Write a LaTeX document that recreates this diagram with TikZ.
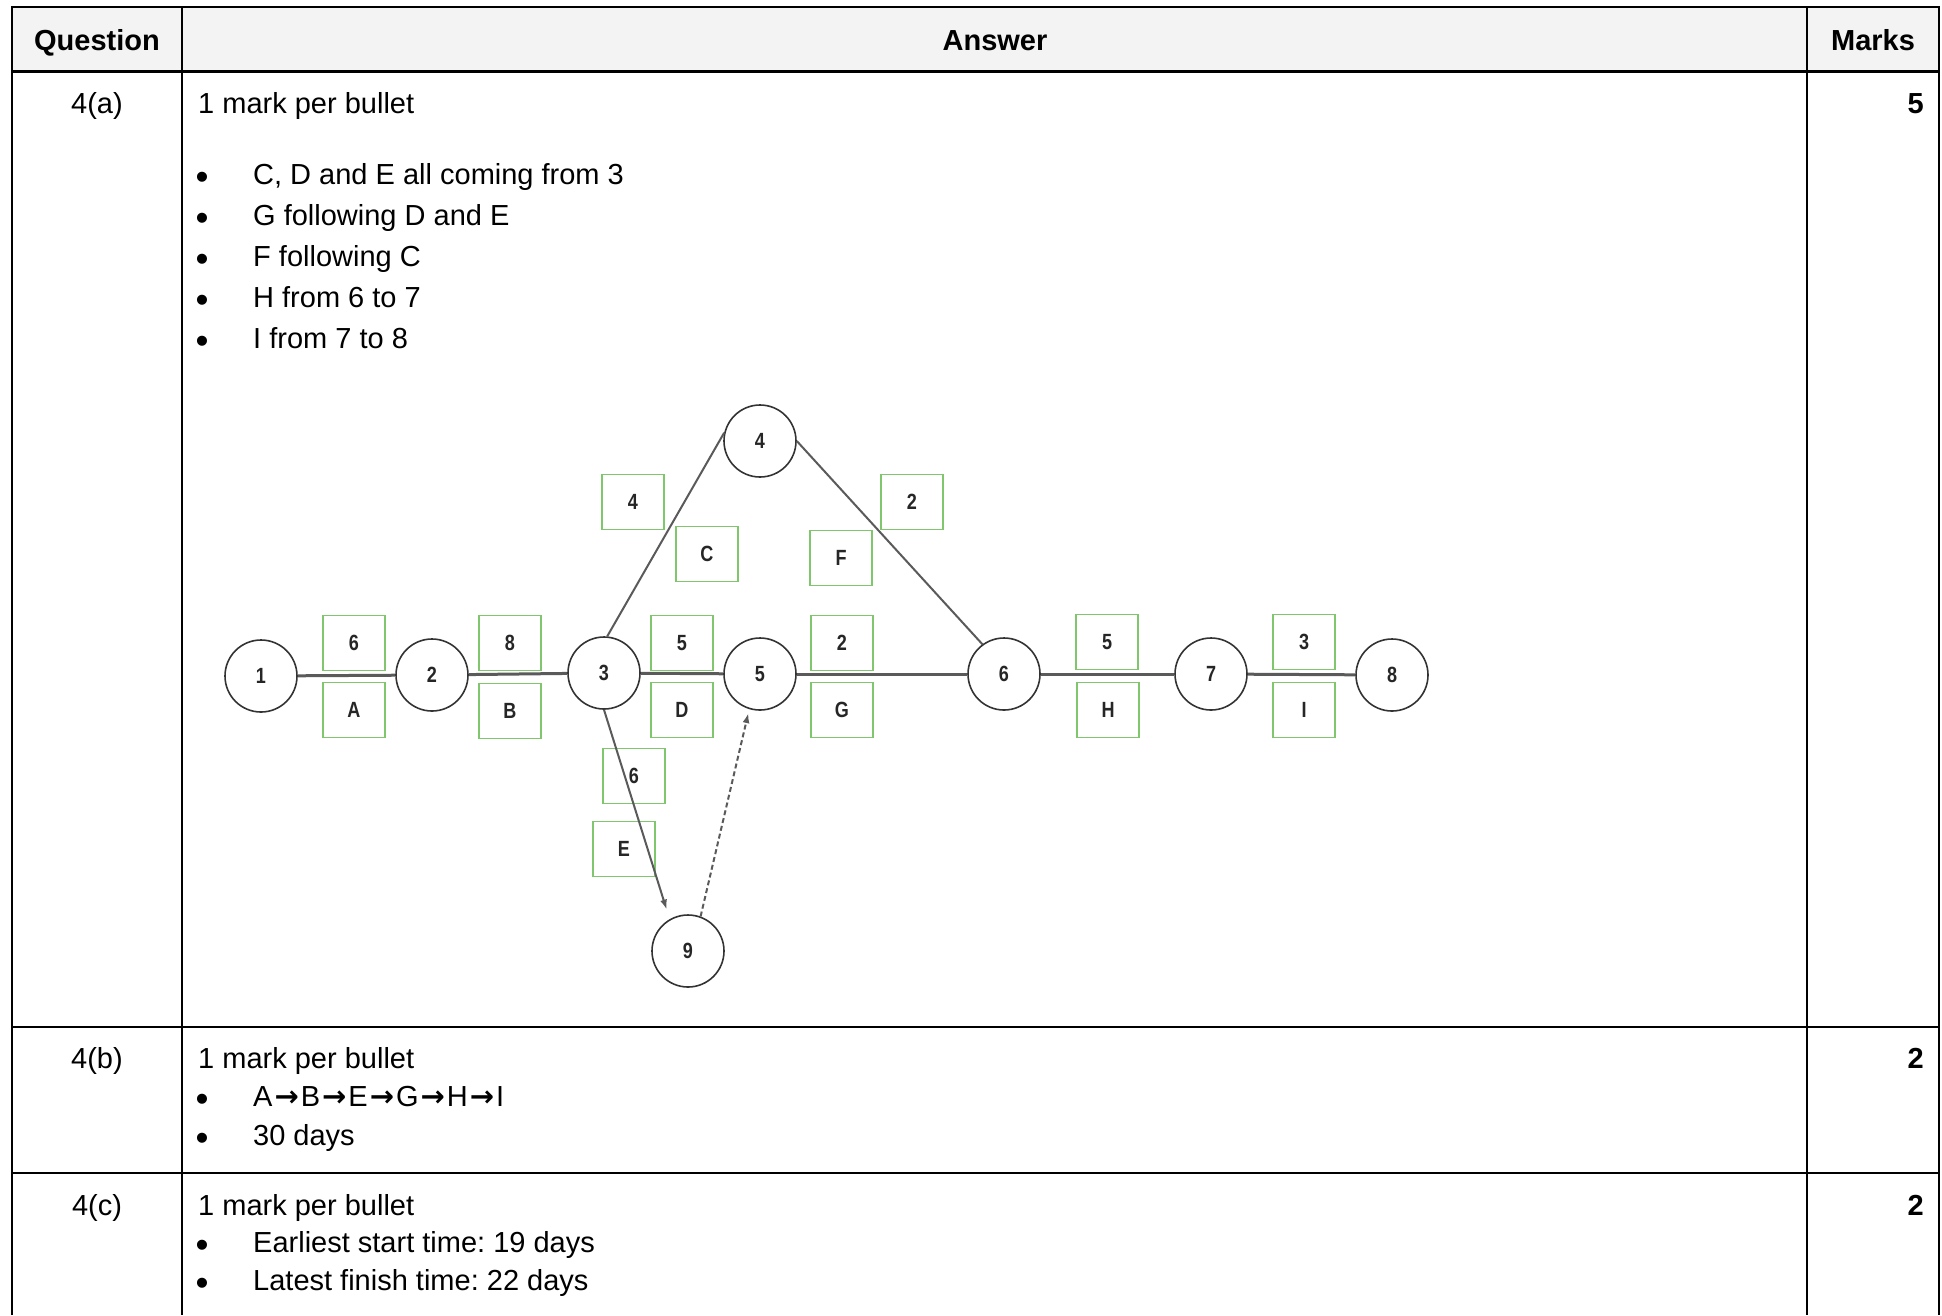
\documentclass[tikz,border=0pt]{standalone}
\usepackage{fontspec}
\setmainfont{Liberation Sans}
\newfontfamily\netfont[FakeStretch=0.82]{Liberation Sans}
\newfontfamily\flechefont{DejaVu Sans}
\usetikzlibrary{arrows.meta}
\definecolor{enteteGris}{RGB}{243,243,243}
\definecolor{vertBoite}{RGB}{128,198,108}
\definecolor{traitGris}{RGB}{90,90,90}
\newcommand{\fleche}{\hspace{2pt}{\flechefont\bfseries →}\hspace{2pt}}
\frenchspacing

\begin{document}
\begin{tikzpicture}[x=1pt,y=-1pt,
    texte/.style={anchor=base west,inner sep=0,font=\fontsize{29}{35}\selectfont\frenchspacing},
    centre/.style={anchor=base,inner sep=0,font=\fontsize{29}{35}\selectfont},
    puce/.style={anchor=base,inner sep=0,yshift=-5pt,font=\fontsize{37}{40}\selectfont},
    gras/.style={anchor=base,inner sep=0,font=\fontsize{29}{35}\selectfont\bfseries},
    note/.style={anchor=base east,inner sep=0,font=\fontsize{29}{35}\selectfont\bfseries},
    evt/.style={circle,draw=black!80,line width=1.6pt,minimum size=72pt,inner sep=0,
        text=black!85,font=\netfont\bfseries\fontsize{22}{24}\selectfont},
    boite/.style={draw=vertBoite,line width=1.5pt,minimum width=62pt,minimum height=55pt,
        inner sep=0,text=black!85,font=\netfont\bfseries\fontsize{22}{24}\selectfont},
    lien/.style={draw=traitGris,line width=3pt},
    diag/.style={draw=traitGris,line width=2pt}]
    \useasboundingbox (0,0) rectangle (1942,1315);

    % tableau
    \fill[enteteGris] (12,7) rectangle (1939,71);
    \draw[line width=2pt] (12,1315) -- (12,7) -- (1939,7) -- (1939,1315);
    \draw[line width=2pt] (182,7) -- (182,1315);
    \draw[line width=2pt] (1807,7) -- (1807,1315);
    \draw[line width=3pt] (12,71) -- (1939,71);
    \draw[line width=2pt] (12,1027) -- (1939,1027);
    \draw[line width=2pt] (12,1173) -- (1939,1173);

    % entetes
    \node[gras] (hQuestion) at (97,50) {Question};
    \node[gras] (hAnswer) at (995,50) {Answer};
    \node[gras] (hMarks) at (1873,50) {Marks};

    % ligne 4(a)
    \node[centre] (qA) at (97,113) {4(a)};
    \node[note] (mA) at (1924,113) {5};
    \node[texte] (tA) at (198,113) {1 mark per bullet};
    \foreach \y/\t in {184/{C, D and E all coming from 3},225/{G following D and E},
        266/{F following C},307/{H from 6 to 7},348/{I from 7 to 8}} {
        \node[puce] at (202,\y) {•};
        \node[texte] at (253,\y) {\t};
    }

    % evenements du reseau
    \node[evt] (1Circ) at (261,676) {1};
    \node[evt] (2Circ) at (432,675) {2};
    \node[evt] (3Circ) at (604,673) {3};
    \node[evt] (4Circ) at (760,441) {4};
    \node[evt] (5Circ) at (760,674) {5};
    \node[evt] (6Circ) at (1004,674) {6};
    \node[evt] (7Circ) at (1211,674) {7};
    \node[evt] (8Circ) at (1392,675) {8};
    \node[evt] (9Circ) at (688,951) {9};

    % durees et activites
    \node[boite] (ADur) at (354,643) {6};
    \node[boite] (ALab) at (354,710) {A};
    \node[boite] (BDur) at (510,643) {8};
    \node[boite] (BLab) at (510,711) {B};
    \node[boite] (CDur) at (633,502) {4};
    \node[boite] (CLab) at (707,554) {C};
    \node[boite] (DDur) at (682,643) {5};
    \node[boite] (DLab) at (682,710) {D};
    \node[boite] (EDur) at (634,776) {6};
    \node[boite] (ELab) at (624,849) {E};
    \node[boite] (FDur) at (912,502) {2};
    \node[boite] (FLab) at (841,558) {F};
    \node[boite] (GDur) at (842,643) {2};
    \node[boite] (GLab) at (842,710) {G};
    \node[boite] (HDur) at (1107,642) {5};
    \node[boite] (HLab) at (1108,710) {H};
    \node[boite] (IDur) at (1304,642) {3};
    \node[boite] (ILab) at (1304,710) {I};

    % activites
    \draw[lien] (1Circ) -- (2Circ);
    \draw[lien] (2Circ) -- (3Circ);
    \draw[lien] (3Circ) -- (5Circ);
    \draw[lien] (5Circ) -- (6Circ);
    \draw[lien] (6Circ) -- (7Circ);
    \draw[lien] (7Circ) -- (8Circ);
    \draw[diag] (3Circ.85) -- (4Circ.167);
    \draw[diag] (4Circ.east) -- (6Circ.126);
    \draw[diag,-{Latex[length=10pt,width=7pt]},shorten >=10pt] (3Circ.south) -- (9Circ.120);

    % activite fictive
    \draw[diag,dash pattern=on 5pt off 3pt,-{Latex[length=10pt,width=7pt]},shorten >=4pt]
        (9Circ.70) -- (5Circ.253);

    % ligne 4(b)
    \node[centre] (qB) at (97,1068) {4(b)};
    \node[note] (mB) at (1924,1068) {2};
    \node[texte] (tB) at (198,1068) {1 mark per bullet};
    \node[puce] at (202,1106) {•};
    \node[texte] at (253,1106) {A\fleche B\fleche E\fleche G\fleche H\fleche I};
    \node[puce] at (202,1145) {•};
    \node[texte] at (253,1145) {30 days};

    % ligne 4(c)
    \node[centre] (qC) at (97,1215) {4(c)};
    \node[note] (mC) at (1924,1215) {2};
    \node[texte] (tC) at (198,1215) {1 mark per bullet};
    \node[puce] at (202,1252) {•};
    \node[texte] at (253,1252) {Earliest start time: 19 days};
    \node[puce] at (202,1290) {•};
    \node[texte] at (253,1290) {Latest finish time: 22 days};
\end{tikzpicture}
\end{document}
